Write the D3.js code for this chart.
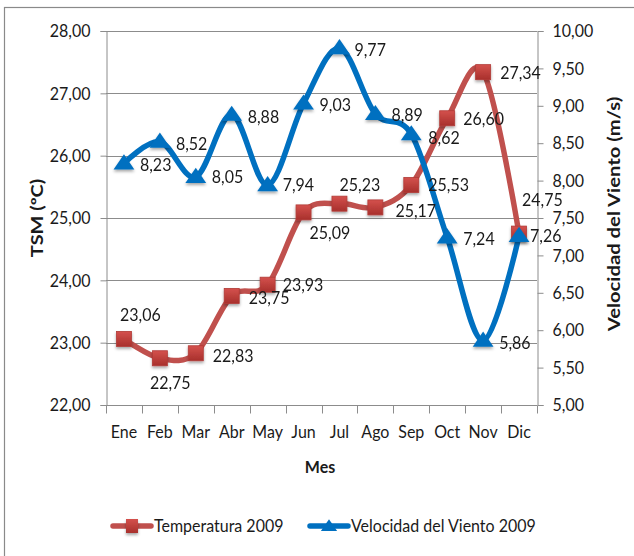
<!DOCTYPE html>
<html><head><meta charset="utf-8">
<script src="https://cdn.jsdelivr.net/npm/d3@7"></script>
<style>
body{margin:0;background:#fff}
svg{display:block}
text{font-family:Lato,"Open Sans",sans-serif;fill:#1a1a1a}
</style>
</head><body>
<svg id="c" width="634" height="556"></svg>
<script>
// ---- data ----
const months = ["Ene","Feb","Mar","Abr","May","Jun","Jul","Ago","Sep","Oct","Nov","Dic"];
const temperatura = [23.06,22.75,22.83,23.75,23.93,25.09,25.23,25.17,25.53,26.60,27.34,24.75];
const viento = [8.23,8.52,8.05,8.88,7.94,9.03,9.77,8.89,8.62,7.24,5.86,7.26];
const tempTicks = [22,23,24,25,26,27,28];
const windTicks = [5,5.5,6,6.5,7,7.5,8,8.5,9,9.5,10];
const seriesNames = ["Temperatura 2009","Velocidad del Viento 2009"];

// ---- layout (label nudges: [left-edge dx, centre dy]) ----
const tempLabelOffset = [[-4,-24],[-10,24],[17,2],[17,2],[15,0],[6,20],[0,-19],[20,3],[17,0],[16,0],[17,1],[3,-34]];
const windLabelOffset = [[16,1],[16,2],[16,0],[16,2],[15,0],[16,1],[15,2],[16,1],[17,3],[16,1],[16,2],[11,0]];
const VS = 1.12; // vertical glyph stretch

const svg = d3.select("#c");
const W = 634, H = 556;
const m = {left:106, right:537, top:31, bottom:405};
const RED = "#C0504D", BLUE = "#0070C0", GRID = "#8c8c8c";

const loc = d3.formatLocale({decimal:",", thousands:".", grouping:[3], currency:["","€"]});
const f2 = loc.format(".2f");

svg.append("rect").attr("width",W).attr("height",H).attr("fill","#fff");
svg.append("rect").attr("x",4.5).attr("y",7.5).attr("width",W+10).attr("height",H+10)
  .attr("fill","none").attr("stroke","#8a8a8a").attr("stroke-width",1.2);

const defs = svg.append("defs");
const sh = defs.append("filter").attr("id","sh").attr("x","-50%").attr("y","-50%").attr("width","200%").attr("height","200%");
sh.append("feDropShadow").attr("dx",0).attr("dy",2).attr("stdDeviation",1.5).attr("flood-color","#000").attr("flood-opacity",0.35);
const gr = defs.append("linearGradient").attr("id","rg").attr("x1",0).attr("y1",0).attr("x2",0).attr("y2",1);
gr.append("stop").attr("offset","0%").attr("stop-color","#D4514D");
gr.append("stop").attr("offset","100%").attr("stop-color","#A8302C");

const x = d3.scaleBand().domain(months).range([m.left,m.right]).padding(0);
const xc = d => x(d) + x.bandwidth()/2;
const yT = d3.scaleLinear().domain([22,28]).range([m.bottom,m.top]);
const yW = d3.scaleLinear().domain([5,10]).range([m.bottom,m.top]);

// helper: horizontal text with a slight vertical stretch
function htext(g, px, py, str, opts={}){
  return g.append("text")
    .attr("transform",`translate(${px},${py}) scale(1,${VS})`)
    .attr("dy","0.35em").attr("font-size",opts.size||16)
    .attr("font-weight",opts.bold?"bold":null)
    .attr("text-anchor",opts.anchor||"start").text(str);
}

// gridlines
svg.append("g").selectAll("line").data(tempTicks).join("line")
  .attr("x1",m.left).attr("x2",m.right)
  .attr("y1",d=>Math.round(yT(d))+0.5).attr("y2",d=>Math.round(yT(d))+0.5)
  .attr("stroke",GRID).attr("stroke-width",1);

// axes
const axL = svg.append("g").attr("transform",`translate(${m.left+0.5},0)`)
  .call(d3.axisLeft(yT).tickValues(tempTicks).tickFormat(f2).tickSize(6).tickPadding(10));
const axR = svg.append("g").attr("transform",`translate(${m.right+0.5},0)`)
  .call(d3.axisRight(yW).tickValues(windTicks).tickFormat(f2).tickSize(6).tickPadding(9));
const bounds = months.map(d=>x(d)).concat([m.right]);
const axB = svg.append("g").attr("transform",`translate(0,${m.bottom+0.5})`)
  .call(d3.axisBottom(x).tickSize(0).tickPadding(20));
axB.selectAll(".tick line").remove();
axB.append("g").selectAll("line").data(bounds).join("line")
  .attr("x1",d=>Math.round(d)+0.5).attr("x2",d=>Math.round(d)+0.5).attr("y1",0).attr("y2",8)
  .attr("stroke",GRID);
[axL,axR,axB].forEach(a=>{
  a.selectAll(".domain").attr("stroke",GRID).attr("stroke-width",1);
  a.selectAll(".tick line").attr("stroke",GRID);
  a.selectAll(".tick text").each(function(){
    const t = d3.select(this);
    const tx = +t.attr("x")||0, ty = +t.attr("y")||0;
    t.attr("x",null).attr("y",null)
     .attr("transform",`translate(${tx},${ty}) scale(1,${VS})`);
  });
  a.selectAll("text").attr("font-size",16).attr("font-family","Lato,sans-serif").attr("fill","#1a1a1a");
});
axB.select(".domain").attr("d",`M${m.left},0H${m.right}`);

// axis titles
htext(svg, 320, 467, "Mes", {bold:true, anchor:"middle"});
svg.append("text").attr("transform",`translate(37,${(m.top+m.bottom)/2}) rotate(-90) scale(1.17,1)`).attr("dy","0.35em")
  .attr("text-anchor","middle").attr("font-size",17).attr("font-weight","bold").text("TSM (ºC)");
svg.append("text").attr("transform",`translate(614,${(m.top+m.bottom)/2 - 4}) rotate(-90) scale(1.19,1)`).attr("dy","0.35em")
  .attr("text-anchor","middle").attr("font-size",17).attr("font-weight","bold").text("Velocidad del Viento (m/s)");

const curve = d3.curveCardinal.tension(0);
const tri = d3.symbol().type(d3.symbolTriangle).size(120);

const tData = months.map((mo,i)=>({mo, v:temperatura[i], i}));
const wData = months.map((mo,i)=>({mo, v:viento[i], i}));

function drawSeries(data, yS, color, isSq){
  svg.append("path").datum(data)
    .attr("d", d3.line().x(d=>xc(d.mo)).y(d=>yS(d.v)).curve(curve))
    .attr("fill","none").attr("stroke",color).attr("stroke-width",5.5).attr("stroke-linejoin","round");
  const g = svg.append("g").attr("filter","url(#sh)");
  if(isSq){
    g.selectAll("rect").data(data).join("rect")
      .attr("x",d=>xc(d.mo)-7.5).attr("y",d=>yS(d.v)-7.5).attr("width",15).attr("height",15)
      .attr("fill","url(#rg)").attr("stroke","#B13B37").attr("stroke-width",0.8);
  } else {
    g.selectAll("path").data(data).join("path")
      .attr("transform",d=>`translate(${xc(d.mo)},${yS(d.v)+1}) scale(1.25,1.05)`)
      .attr("d",tri).attr("fill",color);
  }
}
drawSeries(tData, yT, RED, true);
drawSeries(wData, yW, BLUE, false);

// data labels
const lt = svg.append("g");
tData.forEach(d=>htext(lt, xc(d.mo)+tempLabelOffset[d.i][0], yT(d.v)+tempLabelOffset[d.i][1], f2(d.v)));
const lw = svg.append("g");
wData.forEach(d=>htext(lw, xc(d.mo)+windLabelOffset[d.i][0], yW(d.v)+windLabelOffset[d.i][1], f2(d.v)));

// legend
const leg = [
  {name:seriesNames[0], color:RED, sq:true, x0:113},
  {name:seriesNames[1], color:BLUE, sq:false, x0:310}
];
const ly = 526;
const lg = svg.append("g");
leg.forEach(l=>{
  lg.append("line").attr("x1",l.x0).attr("x2",l.x0+38).attr("y1",ly).attr("y2",ly)
    .attr("stroke",l.color).attr("stroke-width",5.5).attr("stroke-linecap","round");
  const cx = l.x0+19;
  if(l.sq){
    lg.append("rect").attr("x",cx-6).attr("y",ly-7).attr("width",12).attr("height",14)
      .attr("fill","url(#rg)").attr("filter","url(#sh)");
  } else {
    lg.append("path").attr("transform",`translate(${cx},${ly+1}) scale(1.2,1)`)
      .attr("d",d3.symbol().type(d3.symbolTriangle).size(80)).attr("fill",l.color);
  }
  htext(lg, l.x0+41, ly, l.name);
});
</script>
</body></html>
